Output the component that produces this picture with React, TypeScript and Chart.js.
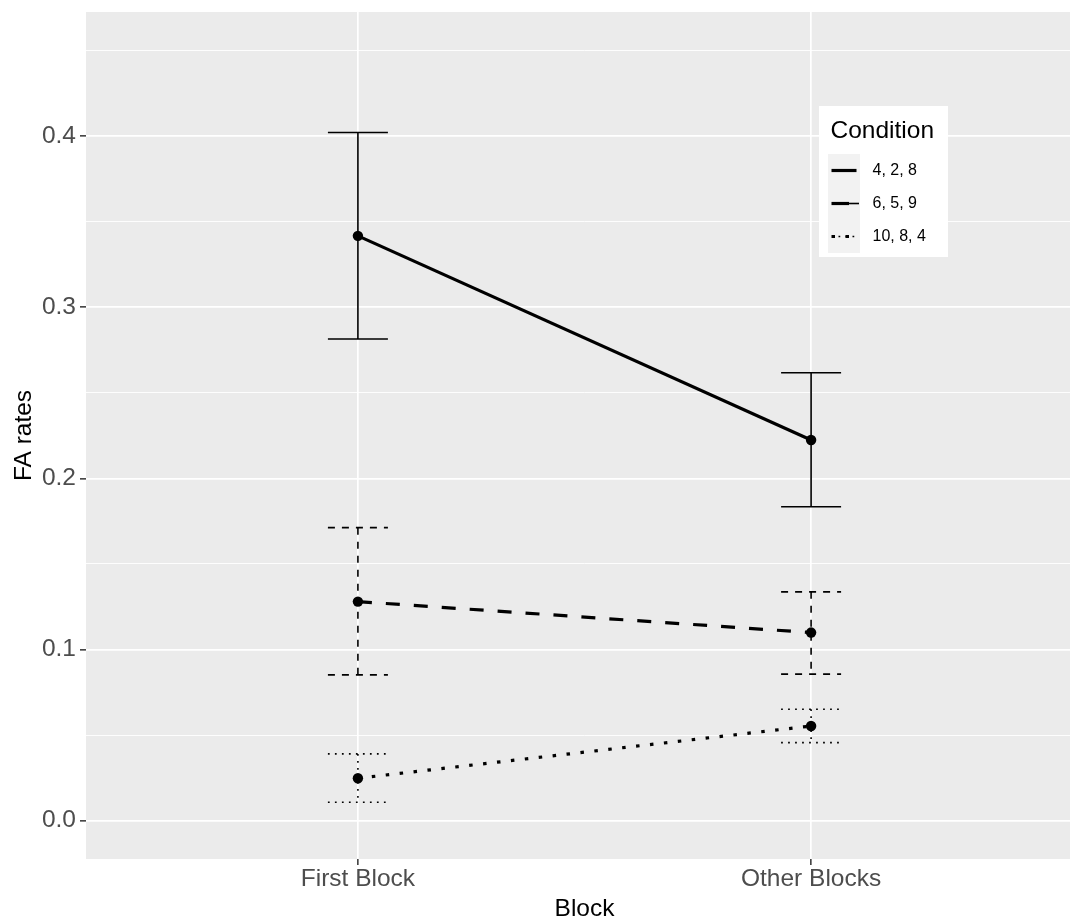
import React, { useEffect, useRef } from "react";
import { Chart, registerables } from "chart.js";

Chart.register(...registerables);

// ---- data ----
const BLOCKS = ["First Block", "Other Blocks"];
const X_POS = [1, 2];
const COND_LABELS = ["4, 2, 8", "6, 5, 9", "10, 8, 4"];

const MEAN_428 = [0.3417, 0.2224];
const LOW_428 = [0.2814, 0.1834];
const HIGH_428 = [0.4021, 0.2617];

const MEAN_659 = [0.128, 0.1099];
const LOW_659 = [0.0852, 0.0856];
const HIGH_659 = [0.1712, 0.1337];

const MEAN_1084 = [0.0248, 0.0553];
const LOW_1084 = [0.0108, 0.0456];
const HIGH_1084 = [0.039, 0.0651];

const Y_TICKS = [0, 0.05, 0.1, 0.15, 0.2, 0.25, 0.3, 0.35, 0.4, 0.45];
const Y_MAJOR = [0, 0.1, 0.2, 0.3, 0.4];
const Y_LABELS = ["0.0", "0.1", "0.2", "0.3", "0.4"];

// ---- styles ----
const FONT = "'Liberation Sans', Arial, sans-serif";
const MAIN_DASH = [[], [14, 14], [3.5, 10.5]];
const EB_DASH = [[], [7, 7], [1.75, 5.25]];
const MEANS = [MEAN_428, MEAN_659, MEAN_1084];
const LOWS = [LOW_428, LOW_659, LOW_1084];
const HIGHS = [HIGH_428, HIGH_659, HIGH_1084];
const ERR_HALF = 0.0662;

const isMajor = (v: number) => Y_MAJOR.some((m) => Math.abs(m - v) < 1e-9);

const panelBg = {
  id: "panelBg",
  beforeDraw(chart: any) {
    const { ctx, chartArea: a } = chart;
    ctx.save();
    ctx.fillStyle = "#EBEBEB";
    ctx.fillRect(a.left, a.top, a.right - a.left, a.bottom - a.top);
    ctx.restore();
  },
};

const errorBars = {
  id: "errorBars",
  afterDatasetsDraw(chart: any) {
    const { ctx, scales } = chart;
    const x = scales.x;
    const y = scales.y;
    ctx.save();
    ctx.strokeStyle = "#000";
    ctx.lineWidth = 1.6;
    ctx.lineCap = "butt";
    LOWS.forEach((lows, s) => {
      ctx.setLineDash(EB_DASH[s]);
      lows.forEach((lo, i) => {
        const xc = x.getPixelForValue(X_POS[i]);
        const xl = x.getPixelForValue(X_POS[i] - ERR_HALF);
        const xr = x.getPixelForValue(X_POS[i] + ERR_HALF);
        const yt = y.getPixelForValue(HIGHS[s][i]);
        const yb = y.getPixelForValue(lo);
        ctx.beginPath();
        ctx.moveTo(xl, yt);
        ctx.lineTo(xr, yt);
        ctx.moveTo(xc, yt);
        ctx.lineTo(xc, yb);
        ctx.moveTo(xl, yb);
        ctx.lineTo(xr, yb);
        ctx.stroke();
      });
    });
    ctx.restore();
  },
};

const legendBox = {
  id: "legendBox",
  afterDraw(chart: any) {
    const { ctx } = chart;
    ctx.save();
    ctx.fillStyle = "#FFFFFF";
    ctx.fillRect(819, 106, 129, 151);
    ctx.fillStyle = "#000";
    ctx.font = `24.5px ${FONT}`;
    ctx.textAlign = "left";
    ctx.textBaseline = "alphabetic";
    ctx.fillText("Condition", 830.5, 137.5);
    const keyTop = 154;
    const keyH = 33;
    COND_LABELS.forEach((lab, i) => {
      const top = keyTop + i * keyH;
      const cy = top + keyH / 2;
      ctx.fillStyle = "#F2F2F2";
      ctx.fillRect(828, top, 32, keyH);
      ctx.strokeStyle = "#000";
      ctx.lineCap = "butt";
      if (i === 0) {
        ctx.setLineDash([]);
        ctx.lineWidth = 3.2;
        ctx.beginPath();
        ctx.moveTo(831.5, cy);
        ctx.lineTo(856.5, cy);
        ctx.stroke();
      } else if (i === 1) {
        ctx.setLineDash([]);
        ctx.lineWidth = 3.2;
        ctx.beginPath();
        ctx.moveTo(831.5, cy);
        ctx.lineTo(849, cy);
        ctx.stroke();
        ctx.lineWidth = 1.6;
        ctx.beginPath();
        ctx.moveTo(849, cy);
        ctx.lineTo(859, cy);
        ctx.stroke();
      } else {
        ctx.lineWidth = 3.2;
        ctx.setLineDash([3.5, 10.5]);
        ctx.beginPath();
        ctx.moveTo(831.5, cy);
        ctx.lineTo(857, cy);
        ctx.stroke();
        ctx.lineWidth = 1.6;
        ctx.setLineDash([1.75, 5.25]);
        ctx.beginPath();
        ctx.moveTo(838.5, cy);
        ctx.lineTo(859, cy);
        ctx.stroke();
      }
      ctx.setLineDash([]);
      ctx.fillStyle = "#000";
      ctx.font = `16px ${FONT}`;
      ctx.textBaseline = "middle";
      ctx.fillText(lab, 872.5, cy + 0.5);
    });
    ctx.restore();
  },
};

export default function App() {
  const ref = useRef<HTMLCanvasElement | null>(null);

  useEffect(() => {
    if (!ref.current) return;
    const datasets = MEANS.map((m, s) => ({
      label: COND_LABELS[s],
      data: m.map((v, i) => ({ x: X_POS[i], y: v })),
      borderColor: "#000",
      backgroundColor: "#000",
      borderWidth: 3.2,
      borderDash: MAIN_DASH[s],
      borderCapStyle: "butt" as const,
      pointRadius: 5.2,
      pointBorderWidth: 0,
      pointBackgroundColor: "#000",
      tension: 0,
      fill: false,
    }));

    const chart = new Chart(ref.current, {
      type: "line",
      data: { datasets },
      plugins: [panelBg, errorBars, legendBox],
      options: {
        animation: false,
        responsive: false,
        maintainAspectRatio: false,
        layout: { padding: { left: 0, top: 12, right: 7, bottom: 0 } },
        plugins: { legend: { display: false }, tooltip: { enabled: false } },
        scales: {
          x: {
            type: "linear",
            min: 0.4,
            max: 2.6,
            afterBuildTicks: (scale: any) => {
              scale.ticks = X_POS.map((v) => ({ value: v }));
            },
            afterFit: (scale: any) => {
              scale.height = 60;
              scale.paddingLeft = 0;
              scale.paddingRight = 0;
            },
            ticks: {
              autoSkip: false,
              maxRotation: 0,
              padding: 0,
              color: "#4D4D4D",
              font: { family: FONT, size: 24.5 },
              callback: (v: any) => {
                const i = X_POS.indexOf(Number(v));
                return i >= 0 ? BLOCKS[i] : "";
              },
            },
            grid: {
              color: "#FFFFFF",
              lineWidth: 1.7,
              tickLength: 6,
              tickColor: "#333333",
              tickWidth: 1.5,
            },
            border: { display: false },
            title: {
              display: true,
              text: "Block",
              color: "#000",
              font: { family: FONT, size: 24.5, lineHeight: 1 },
              padding: { top: 0, bottom: -2 },
            },
          },
          y: {
            type: "linear",
            min: -0.0224,
            max: 0.4725,
            afterBuildTicks: (scale: any) => {
              scale.ticks = Y_TICKS.map((v) => ({ value: v }));
            },
            afterFit: (scale: any) => {
              scale.width = 86;
              scale.paddingTop = 0;
              scale.paddingBottom = 0;
            },
            ticks: {
              autoSkip: false,
              padding: 4,
              color: "#4D4D4D",
              font: { family: FONT, size: 24.5 },
              callback: (v: any) => {
                const i = Y_MAJOR.findIndex((m) => Math.abs(m - Number(v)) < 1e-9);
                return i >= 0 ? Y_LABELS[i] : "";
              },
            },
            grid: {
              color: "#FFFFFF",
              lineWidth: (c: any) => (c.tick && isMajor(c.tick.value) ? 1.7 : 0.9),
              tickLength: 6,
              tickColor: (c: any) =>
                c.tick && isMajor(c.tick.value) ? "#333333" : "rgba(0,0,0,0)",
              tickWidth: 1.5,
            },
            border: { display: false },
            title: {
              display: true,
              text: "FA rates",
              color: "#000",
              font: { family: FONT, size: 24.5, lineHeight: 1 },
              padding: { top: 12, bottom: 0 },
            },
          },
        },
      },
    });
    return () => chart.destroy();
  }, []);

  return (
    <div
      style={{
        position: "fixed",
        left: 0,
        top: 0,
        width: 1070,
        height: 919,
        overflow: "hidden",
        background: "#FFFFFF",
      }}
    >
      <canvas ref={ref} width={1090} height={919} style={{ display: "block" }} />
    </div>
  );
}
